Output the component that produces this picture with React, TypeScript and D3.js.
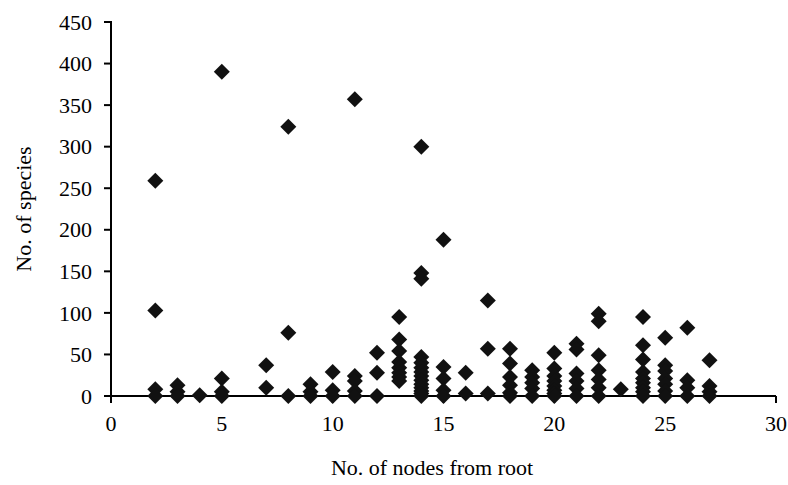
import React from 'react'
import * as d3 from 'd3'

// node depth (x) and species count (y), read column by column
const nodes = [
  2, 2, 2, 2,
  3, 3, 3,
  4,
  5, 5, 5, 5,
  7, 7,
  8, 8, 8,
  9, 9, 9,
  10, 10, 10,
  11, 11, 11, 11, 11,
  12, 12, 12,
  13, 13, 13, 13, 13, 13, 13, 13,
  14, 14, 14, 14, 14, 14, 14, 14, 14, 14, 14, 14, 14, 14,
  15, 15, 15, 15, 15,
  16, 16,
  17, 17, 17,
  18, 18, 18, 18, 18, 18,
  19, 19, 19, 19, 19,
  20, 20, 20, 20, 20, 20, 20, 20,
  21, 21, 21, 21, 21, 21,
  22, 22, 22, 22, 22, 22, 22,
  23,
  24, 24, 24, 24, 24, 24, 24, 24, 24,
  25, 25, 25, 25, 25, 25, 25,
  26, 26, 26, 26,
  27, 27, 27, 27,
]
const species = [
  259, 103, 8, 0,
  13, 5, 0,
  1,
  390, 21, 5, 0,
  37, 10,
  324, 76, 0,
  14, 5, 0,
  29, 7, 0,
  357, 24, 18, 6, 0,
  52, 28, 0,
  95, 68, 54, 41, 34, 28, 23, 18,
  300, 148, 141, 47, 40, 34, 29, 24, 19, 14, 10, 6, 3, 0,
  188, 35, 21, 7, 0,
  28, 3,
  115, 57, 3,
  57, 39, 23, 13, 4, 0,
  31, 23, 16, 9, 0,
  52, 33, 24, 18, 12, 7, 3, 0,
  63, 56, 27, 18, 9, 0,
  99, 90, 49, 31, 20, 10, 0,
  8,
  95, 61, 44, 29, 21, 16, 10, 5, 0,
  70, 37, 30, 21, 14, 6, 0,
  82, 19, 10, 0,
  43, 12, 5, 0,
]

const xTicks = [0, 5, 10, 15, 20, 25, 30]
const yTicks = [0, 50, 100, 150, 200, 250, 300, 350, 400, 450]

const W = 788
const H = 485
const left = 111
const right = 776
const top = 22
const bottom = 396
const font = '"Liberation Serif", "Times New Roman", serif'

export default function App() {
  const x = d3.scaleLinear().domain([0, 30]).range([left, right])
  const y = d3.scaleLinear().domain([0, 450]).range([bottom, top])
  const r = 8
  const diamond = `M0,${-r}L${r},0L0,${r}L${-r},0Z`

  return (
    <svg width={W} height={H} style={{ position: 'absolute', left: 0, top: 0, background: '#fff' }}>
      <g fontFamily={font} fontSize={22} fill="#000">
        {yTicks.map(t => (
          <g key={'y' + t}>
            <line x1={left - 7} x2={left} y1={y(t)} y2={y(t)} stroke="#000" strokeWidth={2} />
            <text x={left - 19} y={y(t)} dy="0.35em" textAnchor="end">{t}</text>
          </g>
        ))}
        {xTicks.map(t => (
          <g key={'x' + t}>
            <line x1={x(t)} x2={x(t)} y1={bottom} y2={bottom + 7} stroke="#000" strokeWidth={2} />
            <text x={x(t)} y={bottom + 35} textAnchor="middle">{t}</text>
          </g>
        ))}
        <line x1={left} x2={left} y1={top - 1} y2={bottom} stroke="#000" strokeWidth={2} />
        <line x1={left} x2={right} y1={bottom} y2={bottom} stroke="#000" strokeWidth={2} />
        <text x={432} y={475} textAnchor="middle">No. of nodes from root</text>
        <text transform={`translate(31, ${(top + bottom) / 2}) rotate(-90)`} textAnchor="middle">No. of species</text>
      </g>
      <g fill="#111">
        {nodes.map((n, i) => (
          <path key={i} d={diamond} transform={`translate(${x(n)},${y(species[i])})`} />
        ))}
      </g>
    </svg>
  )
}
